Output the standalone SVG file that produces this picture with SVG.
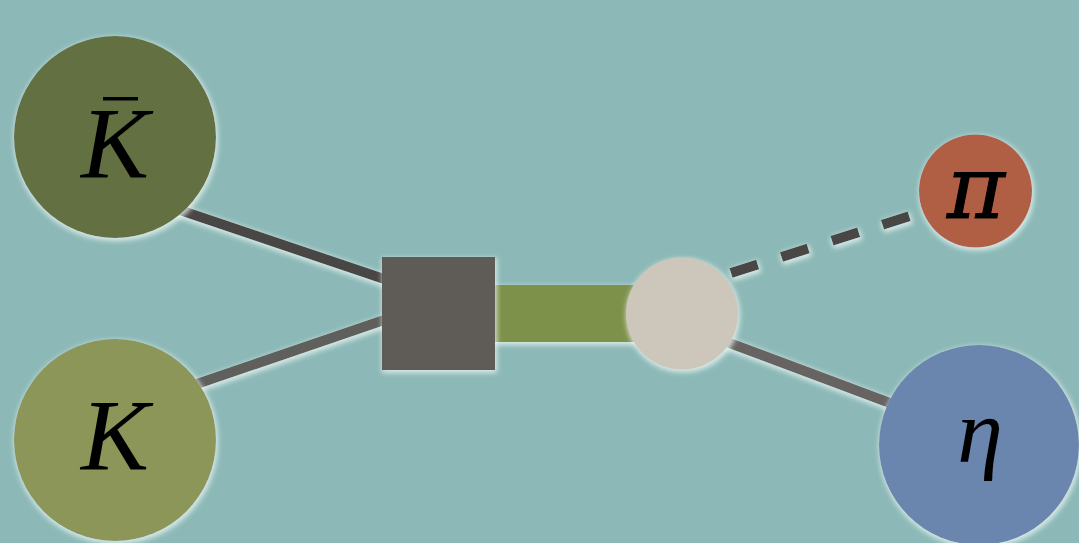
<svg xmlns="http://www.w3.org/2000/svg" width="1079" height="543" viewBox="0 0 1079 543">
<defs>
<filter id="glow" x="-30%" y="-30%" width="160%" height="160%">
<feMorphology in="SourceAlpha" operator="dilate" radius="1" result="d"/>
<feGaussianBlur in="d" stdDeviation="2.5" result="b"/>
<feOffset in="b" dx="1" dy="2" result="o"/>
<feFlood flood-color="#eef8f5" flood-opacity="0.75"/>
<feComposite in2="o" operator="in" result="g"/>
<feMerge><feMergeNode in="g"/><feMergeNode in="SourceGraphic"/></feMerge>
</filter>
<style>
.lbl{font-family:"Liberation Serif","DejaVu Serif",serif;font-style:italic;font-size:102px;fill:#000;text-anchor:middle}
.edge{fill:none;stroke-width:10}
</style>
</defs>
<rect x="0" y="0" width="1079" height="543" fill="#8cb9b7"/>
<g id="connectors" filter="url(#glow)">
<line class="edge" x1="150" y1="200" x2="390" y2="281" stroke="#4a4644"/>
<line class="edge" x1="150" y1="400" x2="390" y2="318" stroke="#5f5e5c"/>
<rect x="490" y="285" width="150" height="57" fill="#7e914b"/>
<line class="edge" x1="731" y1="273" x2="910" y2="216" stroke="#4a4644" stroke-width="13" stroke-dasharray="28 25"/>
<line class="edge" x1="700" y1="332" x2="930" y2="418" stroke="#666462"/>
</g>
<g id="node-Kbar" filter="url(#glow)">
<circle cx="115" cy="137" r="101" fill="#637043"/>
<text class="lbl" x="115" y="178">K</text>
<rect x="103" y="97" width="35" height="3.5" fill="#000"/>
</g>
<g id="node-K" filter="url(#glow)">
<circle cx="115" cy="440" r="101" fill="#8b9659"/>
<text class="lbl" x="115" y="470">K</text>
</g>
<g id="node-vertex" filter="url(#glow)">
<rect x="382" y="257" width="113" height="113" fill="#5f5c58"/>
</g>
<g id="node-mid" filter="url(#glow)">
<circle cx="682" cy="313.5" r="56" fill="#cdc7bb"/>
</g>
<g id="node-pi" filter="url(#glow)">
<circle cx="975.5" cy="191" r="56.5" fill="#b05e45"/>
<text class="lbl" x="976" y="218" style="font-family:'DejaVu Serif',serif;font-size:88px;stroke:#000;stroke-width:1">π</text>
</g>
<g id="node-eta" filter="url(#glow)">
<circle cx="979" cy="445" r="100" fill="#6b86ae"/>
<text class="lbl" x="980" y="462" style="font-size:92px">η</text>
</g>
</svg>
